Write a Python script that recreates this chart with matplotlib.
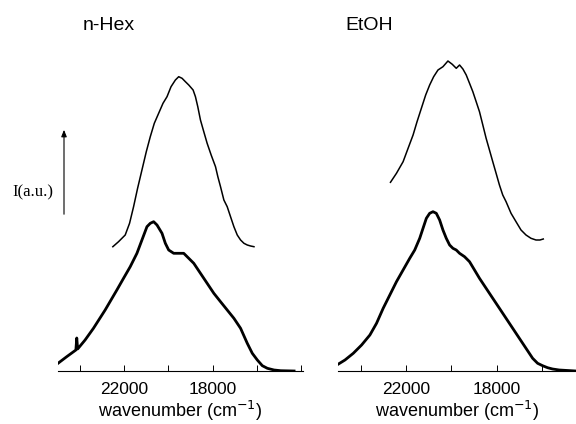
import matplotlib
matplotlib.use('Agg')
import matplotlib.pyplot as plt
from matplotlib.ticker import MultipleLocator, FuncFormatter

plt.rcParams['font.family'] = ['Liberation Sans', 'DejaVu Sans']

# n-Hex: upper (smooth) and lower (noisy) spectra
hex_top_wn = [22515, 22258, 21955, 21758, 21576, 21394, 21197, 21000, 20819, 20637,
              20440, 20243, 20061, 19879, 19682, 19531, 19379, 19228, 19076, 18879,
              18773, 18667, 18546, 18395, 18243, 18061, 17864, 17758, 17637, 17485,
              17334, 17183, 17031, 16879, 16728, 16576, 16425, 16273, 16122]
hex_top_int = [1.243, 1.293, 1.36, 1.477, 1.643, 1.827, 2.01, 2.193, 2.343, 2.477,
               2.577, 2.677, 2.743, 2.843, 2.91, 2.943, 2.927, 2.893, 2.86, 2.81,
               2.743, 2.643, 2.51, 2.393, 2.277, 2.16, 2.043, 1.943, 1.843, 1.71,
               1.643, 1.543, 1.443, 1.36, 1.31, 1.277, 1.26, 1.25, 1.243]
hex_bot_wn = [25000, 24606, 24190, 24150, 24110, 23773, 23394, 22864, 22333, 22031,
              21728, 21424, 21197, 20970, 20819, 20667, 20515, 20288, 20137, 19986,
              19758, 19531, 19304, 19076, 18849, 18546, 18243, 17940, 17637, 17334,
              17031, 16728, 16425, 16198, 15970, 15743, 15516, 15213, 14910, 14304]
hex_bot_int = [0.077, 0.143, 0.21, 0.33, 0.22, 0.31, 0.427, 0.61, 0.81, 0.927,
               1.043, 1.177, 1.31, 1.443, 1.477, 1.493, 1.46, 1.377, 1.277, 1.21,
               1.177, 1.177, 1.177, 1.127, 1.077, 0.977, 0.877, 0.777, 0.693, 0.61,
               0.527, 0.427, 0.277, 0.177, 0.11, 0.053, 0.027, 0.01, 0.003, 0.0]

# EtOH
etoh_top_wn = [22685, 22421, 22128, 21908, 21688, 21513, 21322, 21132, 20956, 20780,
               20589, 20370, 20150, 19959, 19783, 19637, 19490, 19343, 19197, 19051,
               18904, 18758, 18611, 18465, 18318, 18172, 18025, 17878, 17732, 17585,
               17366, 17146, 16926, 16706, 16486, 16266, 16091, 15944]
etoh_top_int = [1.887, 1.977, 2.093, 2.227, 2.36, 2.493, 2.627, 2.76, 2.86, 2.943,
                3.01, 3.043, 3.10, 3.067, 3.027, 3.06, 3.02, 2.96, 2.877, 2.793,
                2.693, 2.593, 2.46, 2.327, 2.21, 2.093, 1.977, 1.86, 1.76, 1.693,
                1.577, 1.493, 1.41, 1.36, 1.327, 1.31, 1.31, 1.32]
etoh_bot_wn = [25000, 24692, 24326, 23959, 23593, 23300, 23007, 22714, 22421, 22128,
               21835, 21615, 21395, 21249, 21102, 20956, 20809, 20663, 20516, 20370,
               20223, 20076, 19930, 19783, 19637, 19417, 19197, 18977, 18758, 18465,
               18172, 17878, 17585, 17292, 16999, 16706, 16413, 16193, 15974, 15754,
               15534, 15241, 14508]
etoh_bot_int = [0.067, 0.11, 0.177, 0.26, 0.36, 0.477, 0.627, 0.76, 0.893, 1.01,
                1.127, 1.21, 1.327, 1.427, 1.527, 1.577, 1.593, 1.577, 1.51, 1.41,
                1.327, 1.26, 1.227, 1.21, 1.177, 1.143, 1.093, 1.01, 0.927, 0.827,
                0.727, 0.627, 0.527, 0.427, 0.327, 0.227, 0.127, 0.077, 0.053, 0.033,
                0.02, 0.01, 0.0]

labelled_ticks = [22000, 18000]

fig = plt.figure(figsize=(5.76, 4.24), dpi=100)
ax1 = fig.add_axes([58 / 576, 53 / 424, 245 / 576, 331 / 424])
ax2 = fig.add_axes([338 / 576, 53 / 424, 238 / 576, 331 / 424])

panels = [
    (ax1, hex_top_wn, hex_top_int, hex_bot_wn, hex_bot_int, (25000, 13900)),
    (ax2, etoh_top_wn, etoh_top_int, etoh_bot_wn, etoh_bot_int, (25000, 14500)),
]

fmt = FuncFormatter(lambda v, p: f'{int(round(v))}' if int(round(v)) in labelled_ticks else '')

for ax, twn, tint, bwn, bint, xl in panels:
    ax.plot(twn, tint, color='black', lw=1.1)
    ax.plot(bwn, bint, color='black', lw=2.0)
    ax.set_xlim(*xl)
    ax.set_ylim(0, 3.31)
    for s in ['left', 'right', 'top']:
        ax.spines[s].set_visible(False)
    ax.spines['bottom'].set_linewidth(0.8)
    ax.set_yticks([])
    ax.xaxis.set_major_locator(MultipleLocator(2000))
    ax.xaxis.set_major_formatter(fmt)
    ax.tick_params(axis='x', direction='in', length=4, width=0.7, pad=8, labelsize=12.5)
    ax.set_xlabel('wavenumber (cm$^{-1}$)', fontsize=13, labelpad=1)
    ax.set_facecolor('none')

fig.text(83 / 576, 1 - 25 / 424, 'n-Hex', fontsize=14, va='center', ha='left')
fig.text(345 / 576, 1 - 25 / 424, 'EtOH', fontsize=14, va='center', ha='left')

# intensity arrow
fig.add_artist(matplotlib.patches.FancyArrowPatch(
    (64 / 576, 1 - 217 / 424), (64 / 576, 1 - 127 / 424), transform=fig.transFigure,
    arrowstyle='-|>,head_length=4,head_width=1.6', color='black', lw=0.8))
fig.text(12 / 576, 1 - 192 / 424, 'I(a.u.)', fontsize=12, va='center', ha='left',
         family=['Liberation Serif', 'DejaVu Serif'])

fig.savefig('out.png', dpi=100)
